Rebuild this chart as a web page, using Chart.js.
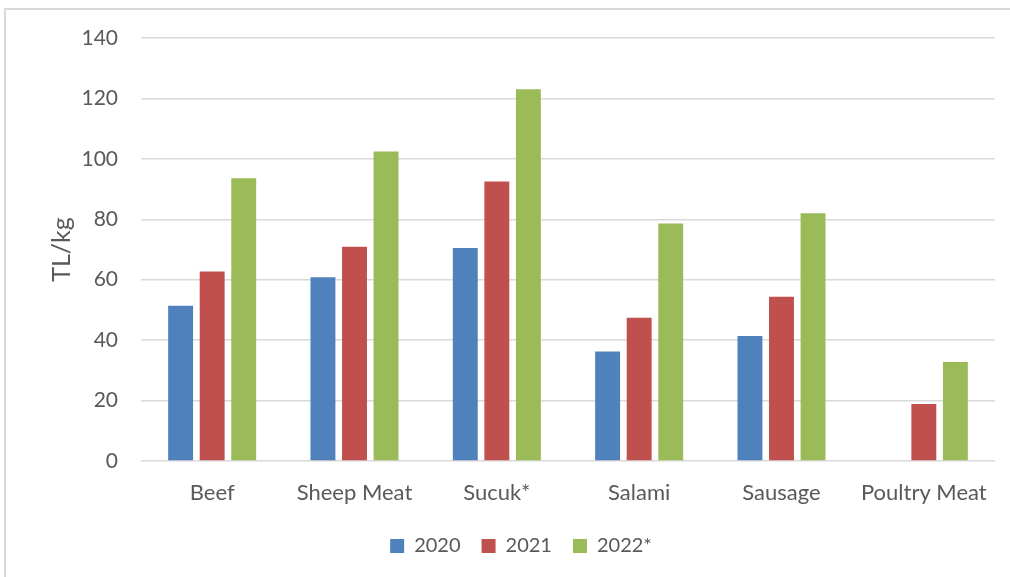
<!DOCTYPE html>
<html>
<head>
<meta charset="utf-8">
<script src="https://cdn.jsdelivr.net/npm/chart.js@4"></script>
<style>
  html, body { margin: 0; padding: 0; background: #fff; overflow: hidden; }
  #frame { position: absolute; left: 4px; top: 8px; width: 1100px; height: 700px; border: 2px solid #d9d9d9; box-sizing: border-box; }
  #wrap { position: absolute; left: 0; top: 0; width: 1010px; height: 577px; }
</style>
</head>
<body>
<div id="frame"></div>
<div id="wrap"><canvas id="grafico" width="1010" height="577"></canvas></div>
<script>
const categorias = ['Beef', 'Sheep Meat', 'Sucuk*', 'Salami', 'Sausage', 'Poultry Meat'];
const anos = ['2020', '2021', '2022*'];
const valores2020 = [51.4, 60.8, 70.5, 36.2, 41.4, null];
const valores2021 = [62.7, 70.9, 92.5, 47.4, 54.4, 18.9];
const valores2022 = [93.6, 102.4, 123.0, 78.6, 82.0, 32.8];
const cores = ['#4F81BD', '#C0504D', '#9BBB59'];

const texto = '#595959';
const fonte = 'Lato, Carlito, Calibri, sans-serif';

const ctx = document.getElementById('grafico').getContext('2d');
new Chart(ctx, {
  type: 'bar',
  data: {
    labels: categorias,
    datasets: [valores2020, valores2021, valores2022].map((d, i) => ({
      label: anos[i],
      data: d,
      backgroundColor: cores[i],
      borderWidth: 0,
      barPercentage: 0.79,
      categoryPercentage: 0.665
    }))
  },
  options: {
    responsive: false,
    animation: false,
    layout: { padding: { left: 47, right: 15, top: 38, bottom: 11 } },
    plugins: {
      legend: {
        position: 'bottom',
        labels: {
          color: texto,
          font: { family: fonte, size: 20 },
          boxWidth: 14,
          boxHeight: 14,
          padding: 21
        }
      },
      tooltip: { enabled: false }
    },
    scales: {
      x: {
        grid: { display: false, drawTicks: false },
        border: { display: false },
        ticks: { color: texto, font: { family: fonte, size: 22 }, padding: 19 },
        afterFit: s => { s.height = 54; }
      },
      y: {
        min: 0,
        max: 140,
        ticks: { stepSize: 20, color: texto, font: { family: fonte, size: 21 }, padding: 23 },
        grid: { color: '#d9d9d9', lineWidth: 1.5, drawTicks: false },
        border: { display: false },
        title: { display: true, text: 'TL/kg', color: texto, font: { family: fonte, size: 25 }, padding: 0 },
        afterFit: s => { s.width = 94; }
      }
    }
  }
});
</script>
</body>
</html>
